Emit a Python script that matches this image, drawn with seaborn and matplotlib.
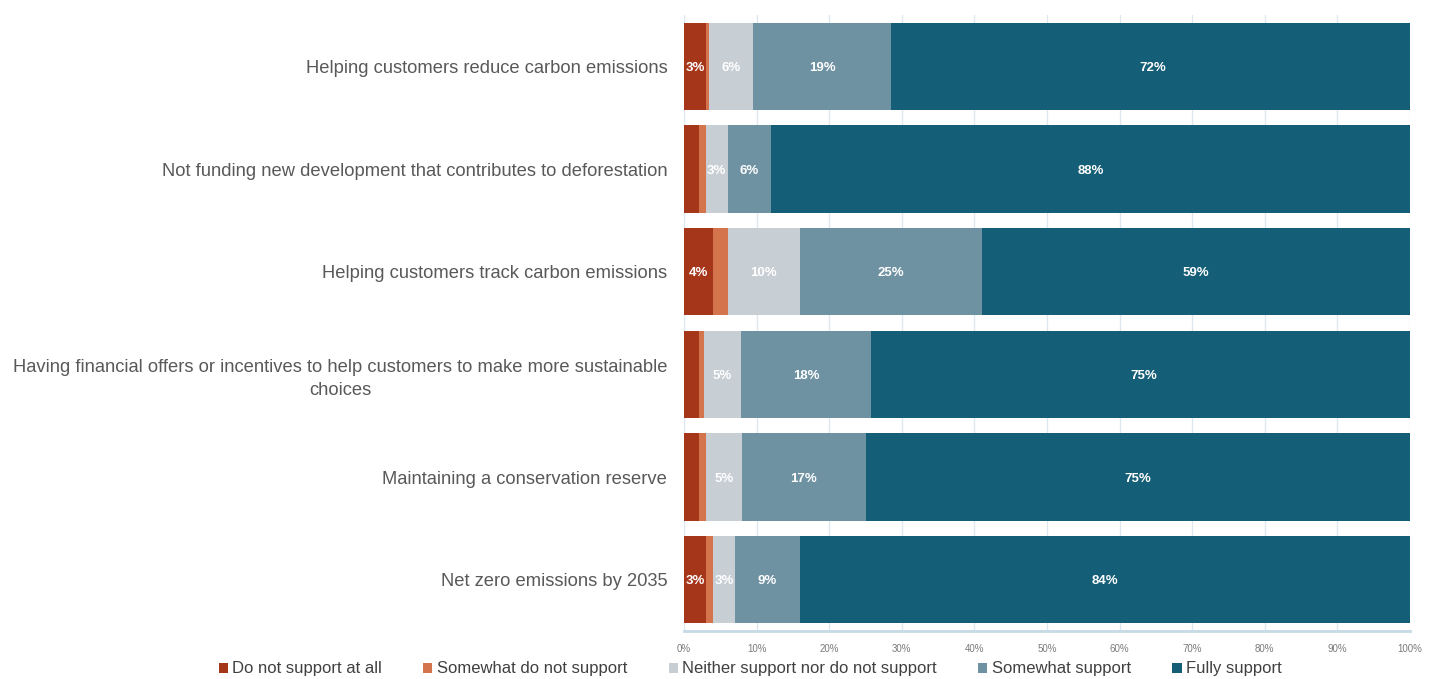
import numpy as np
import pandas as pd
import matplotlib
matplotlib.use("Agg")
import matplotlib.pyplot as plt
from matplotlib.patches import Patch
import seaborn as sns

# Survey items (top to bottom)
statements = [
    "Helping customers reduce carbon emissions",
    "Not funding new development that contributes to deforestation",
    "Helping customers track carbon emissions",
    "Having financial offers or incentives to help customers to make more sustainable\nchoices",
    "Maintaining a conservation reserve",
    "Net zero emissions by 2035",
]

# Response shares (%) per statement
do_not_support = [3, 2, 4, 2, 2, 3]
somewhat_do_not = [0.5, 1, 2, 0.8, 1, 1]
neither = [6, 3, 10, 5, 5, 3]
somewhat_support = [19, 6, 25, 18, 17, 9]
fully_support = [72, 88, 59, 75, 75, 84]

responses = [
    "Do not support at all",
    "Somewhat do not support",
    "Neither support nor do not support",
    "Somewhat support",
    "Fully support",
]
colors = ["#A6361A", "#D3744C", "#C7CED4", "#6F92A3", "#155E77"]

ticks = [0, 10, 20, 30, 40, 50, 60, 70, 80, 90, 100]
tick_labels = [f"{t}%" for t in ticks]

df = pd.DataFrame(
    {
        "statement": statements,
        responses[0]: do_not_support,
        responses[1]: somewhat_do_not,
        responses[2]: neither,
        responses[3]: somewhat_support,
        responses[4]: fully_support,
    }
)

values = df[responses].to_numpy(dtype=float)
cum = np.cumsum(values, axis=1)

sns.set_style("white")
plt.rcParams["font.family"] = ["Liberation Sans", "DejaVu Sans"]

fig = plt.figure(figsize=(14.38, 6.79), dpi=100)
ax = fig.add_axes([684 / 1438, 1 - 631 / 679, 726 / 1438, (631 - 15) / 679])

# Stacked bars: draw cumulative totals from the outermost segment inward
for i in range(len(responses) - 1, -1, -1):
    sns.barplot(
        x=cum[:, i],
        y=df["statement"],
        orient="h",
        color=colors[i],
        saturation=1,
        width=0.85,
        linewidth=0,
        ax=ax,
        zorder=2,
    )

# Percentage labels inside segments
for r in range(len(statements)):
    for i in range(len(responses)):
        v = values[r, i]
        if v >= 3:
            center = cum[r, i] - v / 2
            ax.text(
                center, r, f"{v:.0f}%",
                ha="center", va="center_baseline", color="white",
                fontsize=9.5, fontweight="bold", zorder=5,
            )

ax.set_xlim(0, 100)
ax.set_ylim(len(statements) - 0.5, -0.5)
ax.set_xticks(ticks)
ax.set_xticklabels(tick_labels)
ax.set_xlabel("")
ax.set_ylabel("")

ax.grid(axis="x", color="#DCE7EF", linewidth=1, zorder=0)
ax.grid(axis="y", visible=False)
ax.set_axisbelow(True)

for side in ["top", "right", "left"]:
    ax.spines[side].set_visible(False)
ax.spines["bottom"].set_color("#C6D9E6")
ax.spines["bottom"].set_linewidth(2)

ax.tick_params(axis="x", length=3, color="#DCE7EF", labelsize=7,
               labelcolor="#7A7A7A", pad=6)
ax.tick_params(axis="y", length=0, labelsize=13.2, labelcolor="#595959", pad=12)
for lbl in ax.get_yticklabels():
    lbl.set_multialignment("center")
    lbl.set_linespacing(1.45)

handles = [Patch(facecolor=c, edgecolor="none") for c in colors]
fig.legend(
    handles, responses,
    loc="center", bbox_to_anchor=(750 / 1438, 1 - 669 / 679),
    ncol=5, frameon=False, fontsize=12, labelcolor="#404040",
    handlelength=0.55, handleheight=0.55, handletextpad=0.25,
    columnspacing=2.5, borderaxespad=0,
)

fig.savefig("out.png", dpi=100, facecolor="white")
